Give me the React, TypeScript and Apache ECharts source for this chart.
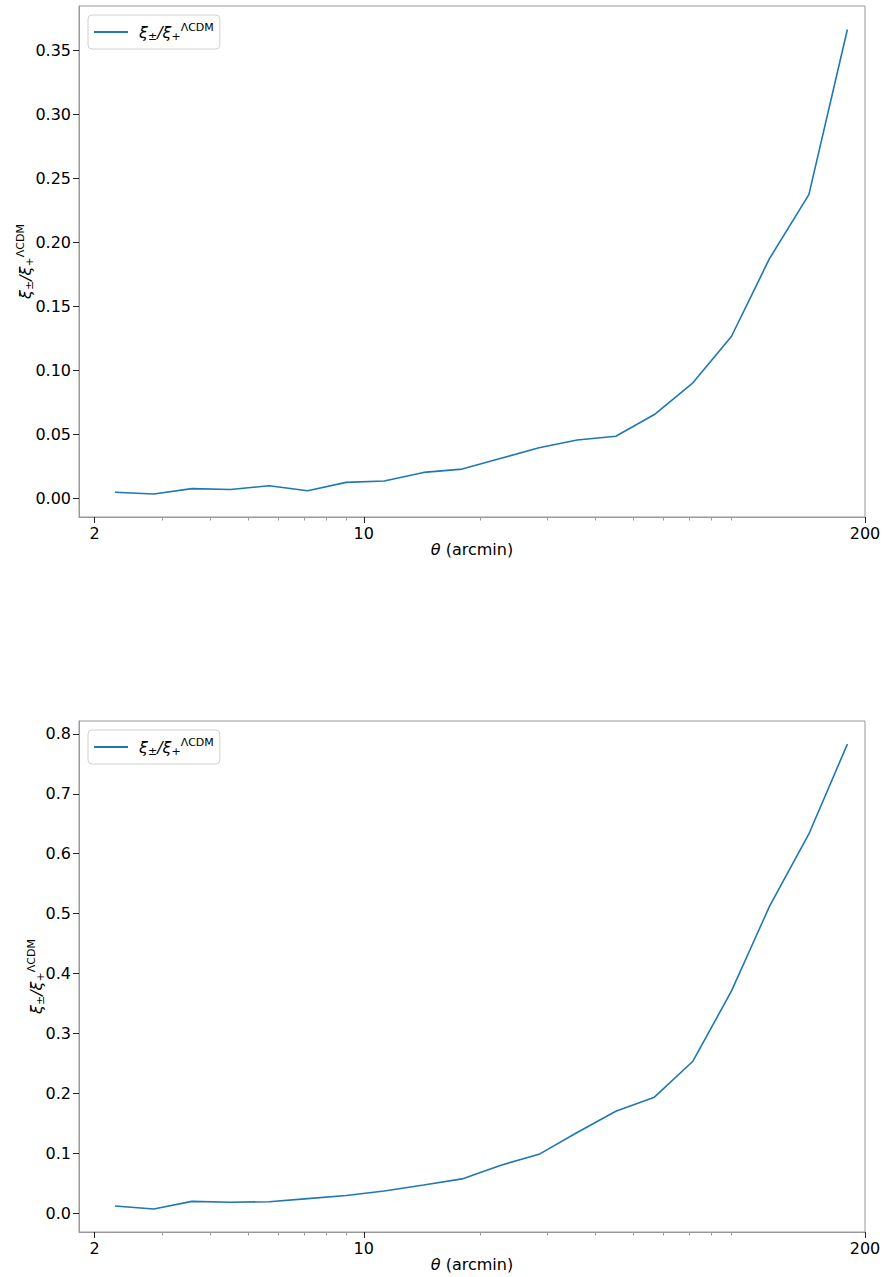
import React, { useEffect, useRef } from "react";
import * as echarts from "echarts";

// angular separations (arcmin), log-spaced bin centres
const theta = [2.26, 2.85, 3.58, 4.51, 5.68, 7.15, 9.0, 11.3, 14.3, 18.0, 22.6, 28.5, 35.8, 45.1, 56.8, 71.5, 90.0, 113, 143, 180];
// ratio, upper panel
const ratioTop = [0.0045, 0.0031, 0.0073, 0.0066, 0.0096, 0.0057, 0.0122, 0.0133, 0.0200, 0.0226, 0.0308, 0.0392, 0.0453, 0.0483, 0.0652, 0.0900, 0.1262, 0.1870, 0.2370, 0.3660];
// ratio, lower panel
const ratioBottom = [0.0117, 0.0067, 0.0195, 0.0179, 0.0189, 0.0240, 0.0292, 0.0367, 0.0467, 0.0570, 0.0795, 0.0980, 0.1345, 0.1700, 0.1935, 0.2535, 0.3705, 0.5120, 0.6330, 0.7830];

const xMajorTicks = [2, 10, 200];
const xMinorTicks = [3, 4, 5, 6, 7, 8, 9, 20, 30, 40, 50, 60, 70, 80, 90];
const yTicksTop = [0, 0.05, 0.1, 0.15, 0.2, 0.25, 0.3, 0.35];
const yTicksBottom = [0, 0.1, 0.2, 0.3, 0.4, 0.5, 0.6, 0.7, 0.8];

const SERIES_NAME = "ξ±/ξ+ΛCDM";
const FONT = "DejaVu Sans";
const LINE_COLOR = "#1f77b4";
const SPINE = "#999";
const TICK = "#222";

const richLabel = {
  m: { fontSize: 16, fontStyle: "italic", fontFamily: FONT, color: "#000", lineHeight: 20 },
  m0: { fontSize: 16, fontStyle: "italic", fontFamily: FONT, color: "#000", lineHeight: 20, padding: [0, 0, 0, 6] },
  s: { fontSize: 11, fontFamily: FONT, color: "#000", verticalAlign: "bottom" },
  p: { fontSize: 11, fontFamily: FONT, color: "#000", verticalAlign: "top" },
};
const legendText = "{m0|ξ}{s|±}{m|/ξ}{s|+}{p|ΛCDM}";
const yNameText = "{m|ξ}{s|±}{m|/ξ}{s|+}{p|ΛCDM}";

export default function App() {
  const ref = useRef<HTMLDivElement>(null);

  useEffect(() => {
    if (!ref.current) return;
    const chart = echarts.init(ref.current, null, { renderer: "svg" });

    const XMIN = Math.log10(1.823);
    const XMAX = Math.log10(200);
    const lg = (arr: number[]) => arr.map((v) => Math.log10(v));

    const grids = [
      { left: 79, top: 6, width: 786, height: 511 },
      { left: 79, top: 721, width: 786, height: 511 },
    ];

    const makeX = (gi: number) => [
      {
        gridIndex: gi,
        type: "value",
        position: "bottom",
        min: XMIN,
        max: XMAX,
        axisLine: { show: true, onZero: false, lineStyle: { color: SPINE, width: 1 } },
        splitLine: { show: false },
        axisTick: { show: true, customValues: lg(xMajorTicks), length: 6, lineStyle: { color: TICK, width: 1 } },
        axisLabel: {
          customValues: lg(xMajorTicks),
          formatter: (v: number) => String(Math.round(Math.pow(10, v))),
          margin: 8,
          fontSize: 16,
          fontFamily: FONT,
          color: "#000",
        },
        name: "{i|θ}{n| (arcmin)}",
        nameLocation: "middle",
        nameGap: 24,
        nameMoveOverlap: false,
        nameTextStyle: {
          rich: {
            i: { fontSize: 16, fontStyle: "italic", fontFamily: FONT, color: "#000" },
            n: { fontSize: 16, fontFamily: FONT, color: "#000" },
          },
        },
      },
      {
        gridIndex: gi,
        type: "value",
        position: "top",
        offset: -511,
        min: XMIN,
        max: XMAX,
        axisLine: { show: false, onZero: false },
        splitLine: { show: false },
        axisLabel: { show: false },
        axisTick: { show: true, inside: true, customValues: lg(xMinorTicks), length: 3.5, lineStyle: { color: "#999", width: 1 } },
      },
    ];

    const makeY = (gi: number, min: number, max: number, ticks: number[], digits: number, gap: number) => ({
      gridIndex: gi,
      type: "value",
      position: "left",
      min,
      max,
      axisLine: { show: true, onZero: false, lineStyle: { color: SPINE, width: 1 } },
      splitLine: { show: false },
      axisTick: { show: true, customValues: ticks, length: 6, lineStyle: { color: TICK, width: 1 } },
      axisLabel: {
        customValues: ticks,
        formatter: (v: number) => v.toFixed(digits),
        margin: 8,
        fontSize: 16,
        fontFamily: FONT,
        color: "#000",
      },
      name: yNameText,
      nameLocation: "middle",
      nameRotate: 90,
      nameGap: gap,
      nameMoveOverlap: false,
      nameTextStyle: { rich: richLabel },
    });

    const makeLegend = (top: number) => ({
      left: 88,
      top,
      orient: "vertical",
      data: [SERIES_NAME],
      selectedMode: false,
      icon: "rect",
      padding: [7, 6, 7, 6],
      itemWidth: 34,
      itemHeight: 2,
      borderColor: "#d0d0d0",
      borderWidth: 1,
      borderRadius: 4,
      backgroundColor: "rgba(255,255,255,0.8)",
      formatter: () => legendText,
      textStyle: { rich: richLabel },
    });

    const mkData = (ys: number[]) => theta.map((t, i) => [Math.log10(t), ys[i]]);

    chart.setOption({
      animation: false,
      backgroundColor: "#fff",
      grid: grids.map((g) => ({ ...g, show: true, borderColor: SPINE, borderWidth: 1, backgroundColor: "transparent" })),
      legend: [makeLegend(15), makeLegend(730)],
      xAxis: [...makeX(0), ...makeX(1)],
      yAxis: [
        makeY(0, -0.01484, 0.3844, yTicksTop, 2, 44),
        makeY(1, -0.0317, 0.8217, yTicksBottom, 1, 33),
      ],
      series: [
        {
          name: SERIES_NAME,
          type: "line",
          xAxisIndex: 0,
          yAxisIndex: 0,
          data: mkData(ratioTop),
          symbol: "none",
          color: LINE_COLOR,
          lineStyle: { color: LINE_COLOR, width: 1.6 },
        },
        {
          name: SERIES_NAME,
          type: "line",
          xAxisIndex: 2,
          yAxisIndex: 1,
          data: mkData(ratioBottom),
          symbol: "none",
          color: LINE_COLOR,
          lineStyle: { color: LINE_COLOR, width: 1.6 },
        },
      ],
    });

    return () => chart.dispose();
  }, []);

  return (
    <div
      ref={ref}
      style={{ position: "absolute", left: 0, top: 0, width: 884, height: 1277, background: "#fff" }}
    />
  );
}
